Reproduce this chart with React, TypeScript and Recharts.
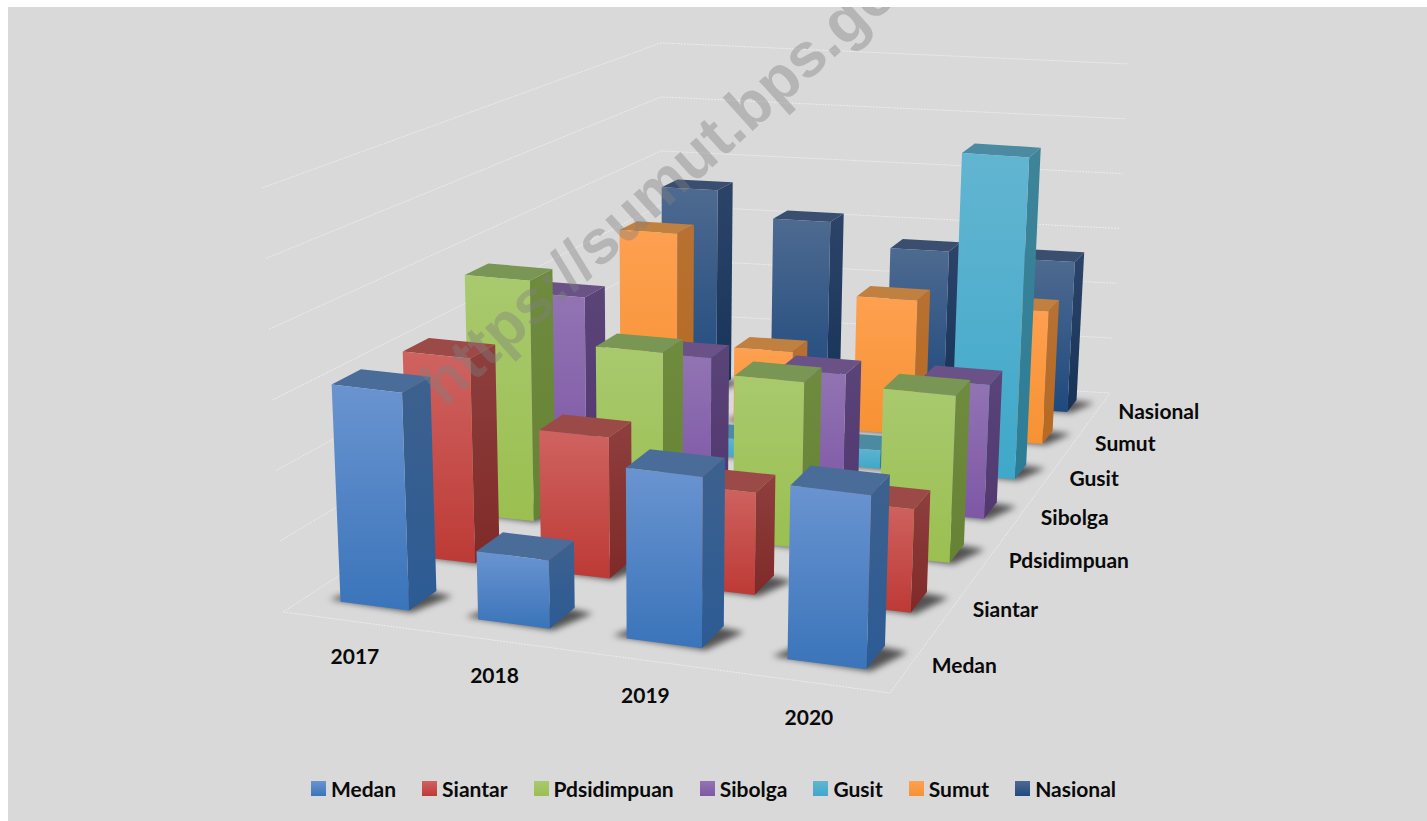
import { Legend, Scatter, ScatterChart, XAxis, YAxis } from "recharts";

const years = ["2017", "2018", "2019", "2020"];
const seriesNames = ["Medan", "Siantar", "Pdsidimpuan", "Sibolga", "Gusit", "Sumut", "Nasional"];

const medan = [3.11, 0.97, 2.42, 2.45];
const siantar = [3.05, 2.09, 1.51, 1.52];
const pdsidimpuan = [3.73, 2.8, 2.55, 2.56];
const sibolga = [3.0, 2.19, 2.11, 2.13];
const gusit = [0.3, 0.3, 0.3, 5.33];
const sumut = [3.21, 1.29, 2.32, 2.28];
const nasional = [3.6, 3.14, 2.73, 2.67];
const seriesValues = [medan, siantar, pdsidimpuan, sibolga, gusit, sumut, nasional];
const valueTicks = [0, 1, 2, 3, 4, 5, 6];

// front top, front bottom, side top, side bottom, top face
const faceColors = [
  ["#6a94d0", "#3a74ba", "#3d618e", "#2c5b94", "#4a6c99"],
  ["#cf6360", "#bd3a36", "#8e3f3e", "#7f2a28", "#9b4a48"],
  ["#a9c96e", "#9bbf50", "#6f8b3e", "#668235", "#7a9654"],
  ["#9274b3", "#7e57a6", "#5a4478", "#52386f", "#6a5287"],
  ["#62b5d1", "#3fa8c9", "#3f8499", "#2a7d96", "#4c8aa1"],
  ["#fda050", "#f79233", "#b87132", "#b66a22", "#c08040"],
  ["#4e6a90", "#1f4a7e", "#2d4469", "#173358", "#3a4f70"],
];

const WIDTH = 1427;
const HEIGHT = 821;
const FONT = "Lato, sans-serif";

// fake 3D: floor homography plus a height lift, gives scene coordinates for the hidden axes
function project(u: number, v: number, h: number) {
  const s = u / 4;
  const t = v / 7;
  const w = 1 - 0.1466 * s + 0.4237 * t;
  const bx = (283 + 476.5 * s + 658.1 * t) / w;
  const by = (612 - 20.6 * s - 89.5 * t) / w;
  const lift = (h * 70.7) / (1 - 0.02 * s + 0.309 * t);
  return { x: bx + ((bx - 661) / (8400 - by)) * lift, y: by - lift };
}

const barSpan = (year: number, series: number) => ({
  u0: 0.27 + 1.015 * year,
  u1: 0.785 + year,
  v0: series + 0.3,
  v1: series + 0.7,
});

const pointsAttr = (pts: { x: number; y: number }[], dx: number, dy: number) =>
  pts.map((p) => `${p.x + dx},${p.y + dy}`).join(" ");

function BarShape(props: any) {
  const { cx, cy, payload } = props;
  const { year, series, value, x, y } = payload;
  const dx = cx - x;
  const dy = cy - y;
  const { u0, u1, v0, v1 } = barSpan(year, series);
  const fb0 = project(u0, v0, 0);
  const fb1 = project(u1, v0, 0);
  const bb1 = project(u1, v1, 0);
  const ft0 = project(u0, v0, value);
  const ft1 = project(u1, v0, value);
  const bt1 = project(u1, v1, value);
  const bt0 = project(u0, v1, value);
  const shadow = [
    project(u0 - 0.1, v0 + 0.02, 0),
    project(u1 + 0.03, v0 - 0.02, 0),
    project(u1 + 0.15, v1 - 0.06, 0),
    project(u0 + 0.1, v1 + 0.05, 0),
  ];
  const name = seriesNames[series];
  return (
    <g>
      <polygon points={pointsAttr(shadow, dx, dy)} fill="#000" fillOpacity={0.62} filter="url(#barShadow)" />
      <polygon points={pointsAttr([fb1, bb1, bt1, ft1], dx, dy)} fill={`url(#side-${name})`} />
      <polygon points={pointsAttr([ft0, ft1, bt1, bt0], dx, dy)} fill={faceColors[series][4]} />
      <polygon points={pointsAttr([fb0, fb1, ft1, ft0], dx, dy)} fill={`url(#front-${name})`} />
    </g>
  );
}

// one scatter per series, drawn back to front so near bars cover far ones
const barRows = seriesNames.map((name, series) => ({
  name,
  data: years.map((_, year) => {
    const { u0, v0 } = barSpan(year, series);
    return { ...project(u0, v0, 0), year, series, value: seriesValues[series][year] };
  }),
}));

const wallLines = valueTicks.map((h) => [project(0, 0, h), project(0, 7, h), project(4, 7, h)]);
const floorEdge = [project(0, 0, 0), project(4, 0, 0), project(4, 7, 0)];

const yearLabels = years.map((label, i) => ({ ...project(i + 0.5, 0, 0), label }));
const depthLabels = seriesNames.map((label, j) => ({ ...project(4, j + 0.5, 0), label }));
const watermark = [{ x: 445, y: 408, label: "https://sumut.bps.go.id" }];

const labelStyle = { fontFamily: FONT, fontWeight: 700, fontSize: 21, fill: "#0a0a0a" };

function ValueTick(props: any) {
  const { y, payload } = props;
  return (
    <text x={253 - 2.9 * payload.value} y={y + 3} dy="0.35em" textAnchor="middle" {...labelStyle}>
      {payload.value}
    </text>
  );
}

function LegendRow(props: any) {
  const items = [...(props.payload ?? [])]
    .filter((item: any) => seriesNames.includes(item.value))
    .sort((a: any, b: any) => seriesNames.indexOf(a.value) - seriesNames.indexOf(b.value));
  return (
    <div style={{ display: "flex", justifyContent: "center", gap: 26, fontFamily: FONT, fontWeight: 700, fontSize: 21, color: "#0a0a0a" }}>
      {items.map((item: any) => {
        const colors = faceColors[seriesNames.indexOf(item.value)];
        return (
          <div key={item.value} style={{ display: "flex", alignItems: "center", gap: 5, height: 26 }}>
            <span style={{ width: 15, height: 15, background: `linear-gradient(${colors[0]}, ${colors[1]})` }} />
            <span>{item.value}</span>
          </div>
        );
      })}
    </div>
  );
}

export default function App() {
  return (
    <div style={{ position: "absolute", left: 0, top: 0, width: WIDTH, height: HEIGHT, background: "#fff", overflow: "hidden" }}>
      <div style={{ position: "absolute", left: 8, top: 7, right: 0, bottom: 0, background: "#d9d9d9" }} />
      <ScatterChart width={WIDTH} height={HEIGHT} margin={{ top: 0, right: 0, bottom: 0, left: 0 }} style={{ position: "absolute", left: 0, top: 0 }}>
        <defs>
          <filter id="barShadow" x="-40%" y="-60%" width="180%" height="220%">
            <feGaussianBlur stdDeviation="3" />
          </filter>
          <clipPath id="panelClip">
            <rect x={8} y={7} width={WIDTH} height={HEIGHT} />
          </clipPath>
          {seriesNames.map((name, i) => (
            <linearGradient key={`front-${name}`} id={`front-${name}`} x1="0" y1="0" x2="0" y2="1">
              <stop offset="0%" stopColor={faceColors[i][0]} />
              <stop offset="100%" stopColor={faceColors[i][1]} />
            </linearGradient>
          ))}
          {seriesNames.map((name, i) => (
            <linearGradient key={`side-${name}`} id={`side-${name}`} x1="0" y1="0" x2="0" y2="1">
              <stop offset="0%" stopColor={faceColors[i][2]} />
              <stop offset="100%" stopColor={faceColors[i][3]} />
            </linearGradient>
          ))}
        </defs>
        <XAxis type="number" dataKey="x" domain={[0, WIDTH]} hide allowDataOverflow />
        <YAxis yAxisId="scene" type="number" dataKey="y" domain={[0, HEIGHT]} reversed hide allowDataOverflow />
        <YAxis
          yAxisId="value"
          type="number"
          domain={[-2.956, 8.656]}
          ticks={valueTicks}
          width={0}
          axisLine={false}
          tickLine={false}
          tick={<ValueTick />}
          allowDataOverflow
        />
        <Legend
          layout="horizontal"
          verticalAlign="middle"
          align="center"
          wrapperStyle={{ left: 0, top: 775, width: WIDTH }}
          content={<LegendRow />}
        />

        {wallLines.map((line, i) => (
          <Scatter
            key={`wall-${i}`}
            yAxisId="scene"
            data={line}
            line={{ stroke: "#ececec", strokeWidth: 1, strokeDasharray: "2 1" }}
            shape={() => <g />}
            legendType="none"
            isAnimationActive={false}
          />
        ))}
        <Scatter
          yAxisId="scene"
          data={floorEdge}
          line={{ stroke: "#ececec", strokeWidth: 1, strokeDasharray: "2 1" }}
          shape={() => <g />}
          legendType="none"
          isAnimationActive={false}
        />

        {[...barRows].reverse().map((row) => (
          <Scatter
            key={row.name}
            yAxisId="scene"
            name={row.name}
            data={row.data}
            fill={faceColors[seriesNames.indexOf(row.name)][1]}
            shape={(p: any) => <BarShape {...p} />}
            isAnimationActive={false}
          />
        ))}

        <Scatter
          yAxisId="scene"
          data={yearLabels}
          legendType="none"
          isAnimationActive={false}
          shape={(p: any) => (
            <text x={p.cx + 6} y={p.cy + 36} dy="0.35em" textAnchor="middle" {...labelStyle}>
              {p.payload.label}
            </text>
          )}
        />
        <Scatter
          yAxisId="scene"
          data={depthLabels}
          legendType="none"
          isAnimationActive={false}
          shape={(p: any) => (
            <text x={p.cx + 19} y={p.cy + 4} dy="0.35em" textAnchor="start" {...labelStyle}>
              {p.payload.label}
            </text>
          )}
        />
        <Scatter
          yAxisId="scene"
          data={watermark}
          legendType="none"
          isAnimationActive={false}
          shape={(p: any) => (
            <g clipPath="url(#panelClip)">
              <text
                x={p.cx}
                y={p.cy}
                transform={`rotate(-42 ${p.cx} ${p.cy})`}
                fontFamily="Liberation Sans, sans-serif"
                fontWeight={700}
                fontSize={62}
                fill="#808080"
                fillOpacity={0.4}
              >
                {p.payload.label}
              </text>
            </g>
          )}
        />
      </ScatterChart>
    </div>
  );
}
